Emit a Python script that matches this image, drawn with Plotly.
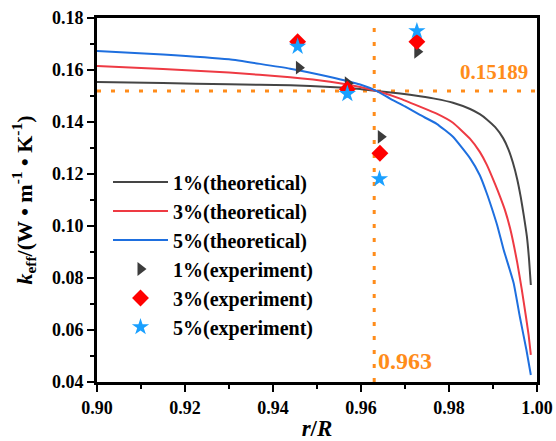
import plotly.graph_objects as go

# theoretical curves
x_1t = [0.9000, 0.9150, 0.9300, 0.9440, 0.9530, 0.9598, 0.9636, 0.9689, 0.9734, 0.9770,
        0.9809, 0.9848, 0.9870, 0.9886, 0.9905, 0.9923, 0.9935, 0.9945, 0.9955, 0.9963,
        0.9970, 0.9977, 0.9982, 0.9986]
y_1t = [0.1554, 0.1550, 0.1545, 0.1541, 0.1535, 0.1527, 0.1519, 0.1510, 0.1499, 0.1489,
        0.1474, 0.1450, 0.1430, 0.1410, 0.1380, 0.1338, 0.1295, 0.1245, 0.1180, 0.1112,
        0.1040, 0.0960, 0.0870, 0.0773]

x_3t = [0.9000, 0.9150, 0.9300, 0.9439, 0.9530, 0.9598, 0.9636, 0.9689, 0.9734, 0.9772,
        0.9809, 0.9848, 0.9870, 0.9886, 0.9905, 0.9916, 0.9927, 0.9939, 0.9955, 0.9965,
        0.9975, 0.9981, 0.9986]
y_3t = [0.1615, 0.1604, 0.1590, 0.1572, 0.1555, 0.1535, 0.1519, 0.1490, 0.1459, 0.1432,
        0.1397, 0.1335, 0.1285, 0.1235, 0.1160, 0.1113, 0.1062, 0.0990, 0.0860, 0.0760,
        0.0650, 0.0580, 0.0504]

x_5t = [0.9000, 0.9150, 0.9300, 0.9439, 0.9530, 0.9598, 0.9636, 0.9666, 0.9700, 0.9734,
        0.9772, 0.9809, 0.9848, 0.9870, 0.9886, 0.9897, 0.9910, 0.9924, 0.9947, 0.9961,
        0.9976, 0.9986]
y_5t = [0.1673, 0.1660, 0.1641, 0.1605, 0.1573, 0.1544, 0.1519, 0.1490, 0.1460, 0.1427,
        0.1393, 0.1343, 0.1260, 0.1195, 0.1125, 0.1070, 0.1000, 0.0910, 0.0780, 0.0651,
        0.0523, 0.0427]

# experimental points
x_1e = [0.9459, 0.9570, 0.9645, 0.9728]
y_1e = [0.1609, 0.1549, 0.1343, 0.1670]
x_3e = [0.9456, 0.9569, 0.9643, 0.9727]
y_3e = [0.1709, 0.1526, 0.1280, 0.1709]
x_5e = [0.9456, 0.9569, 0.9642, 0.9727]
y_5e = [0.1690, 0.1508, 0.1181, 0.1750]

ref_x = 0.963
ref_y = 0.15189

FONT = "Liberation Serif"
ORANGE = "#FF8C1A"

fig = go.Figure()
fig.add_trace(go.Scatter(x=x_1t, y=y_1t, mode="lines", name="1%(theoretical)",
                         line=dict(color="#454545", width=2, shape="spline", smoothing=0.4)))
fig.add_trace(go.Scatter(x=x_3t, y=y_3t, mode="lines", name="3%(theoretical)",
                         line=dict(color="#EE3A43", width=2, shape="spline", smoothing=0.4)))
fig.add_trace(go.Scatter(x=x_5t, y=y_5t, mode="lines", name="5%(theoretical)",
                         line=dict(color="#1E6FDF", width=2, shape="spline", smoothing=0.4)))
fig.add_trace(go.Scatter(x=x_1e, y=y_1e, mode="markers", name="1%(experiment)",
                         marker=dict(symbol="triangle-right", size=12, color="#3C3C3C")))
fig.add_trace(go.Scatter(x=x_3e, y=y_3e, mode="markers", name="3%(experiment)",
                         marker=dict(symbol="diamond", size=13, color="#FF0000")))
fig.add_trace(go.Scatter(x=x_5e, y=y_5e, mode="markers", name="5%(experiment)",
                         marker=dict(symbol="star", size=13, color="#1AA0FF")))

fig.add_shape(type="line", xref="x", yref="y", x0=0.90, x1=1.00, y0=ref_y, y1=ref_y,
              line=dict(color=ORANGE, width=3, dash="4px,10px"), layer="below")
fig.add_shape(type="line", xref="x", yref="y", x0=ref_x, x1=ref_x, y0=0.04, y1=0.18,
              line=dict(color=ORANGE, width=3, dash="4px,10px"), layer="below")

fig.add_annotation(x=0.9985, y=0.1592, xref="x", yref="y", text=f"{ref_y:.5f}",
                   showarrow=False, xanchor="right", yanchor="middle",
                   font=dict(family=FONT, size=21, color=ORANGE, weight="bold"))
fig.add_annotation(x=0.9633, y=0.0481, xref="x", yref="y", text=f"{ref_x:.3f}",
                   showarrow=False, xanchor="left", yanchor="middle",
                   font=dict(family=FONT, size=24, color=ORANGE, weight="bold"))

axis_common = dict(showline=True, linecolor="black", linewidth=3, mirror=True,
                   ticks="outside", ticklen=7, tickwidth=2, tickcolor="black",
                   showgrid=False, zeroline=False, automargin=False,
                   tickfont=dict(family=FONT, size=18, color="black", weight="bold"))

fig.update_xaxes(range=[0.90, 1.00], dtick=0.02, tickformat=".2f",
                 minor=dict(ticks="outside", ticklen=4, tickwidth=2, dtick=0.01, tickcolor="black"),
                 title=dict(text="<i>r</i>/<i>R</i>", standoff=7,
                            font=dict(family=FONT, size=23, color="black", weight="bold")),
                 **axis_common)
fig.update_yaxes(range=[0.04, 0.18], dtick=0.02, tickformat=".2f",
                 minor=dict(ticks="outside", ticklen=4, tickwidth=2, dtick=0.01, tickcolor="black"),
                 title=dict(text="<i>k</i><sub>eff</sub>/(W • m<sup>-1</sup> • K<sup>-1</sup>)", standoff=14,
                            font=dict(family=FONT, size=22, color="black", weight="bold")),
                 **axis_common)

fig.update_layout(
    width=556, height=441,
    margin=dict(l=97, r=19, t=18, b=59),
    paper_bgcolor="white", plot_bgcolor="white",
    font=dict(family=FONT, color="black", weight="bold"),
    showlegend=True,
    legend=dict(x=0.025, y=0.603, xanchor="left", yanchor="top",
                bgcolor="rgba(0,0,0,0)", borderwidth=0,
                font=dict(family=FONT, size=20, color="black", weight="bold"),
                itemwidth=55),
)

fig.write_html("out.html", config={"displayModeBar": False},
               post_script="document.body.style.margin='0';document.body.style.overflow='hidden';")
